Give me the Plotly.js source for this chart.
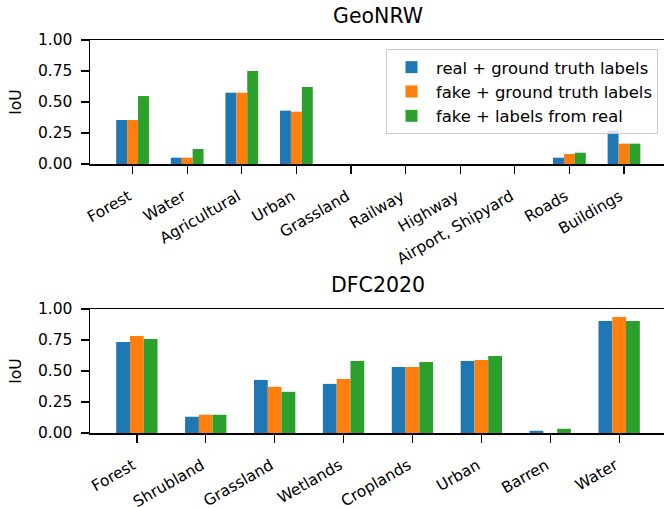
<!DOCTYPE html>
<html>
<head>
<meta charset="utf-8">
<script src="https://cdn.plot.ly/plotly-3.0.1.min.js"></script>
<style>html,body{margin:0;padding:0;background:#fff;}#chart{width:664px;height:508px;}</style>
</head>
<body>
<div id="chart"></div>
<script>
// ---- data ----
var seriesNames = ["real + ground truth labels", "fake + ground truth labels", "fake + labels from real"];
var seriesColors = ["#1f77b4", "#ff7f0e", "#2ca02c"];

var geoCategories = ["Forest", "Water", "Agricultural", "Urban", "Grassland", "Railway", "Highway", "Airport, Shipyard", "Roads", "Buildings"];
var geoReal     = [0.355, 0.051, 0.575, 0.430, 0, 0, 0, 0, 0.051, 0.269];
var geoFakeGT   = [0.355, 0.051, 0.575, 0.422, 0, 0, 0, 0, 0.081, 0.164];
var geoFakeReal = [0.548, 0.121, 0.750, 0.621, 0, 0, 0, 0, 0.091, 0.164];

var dfcCategories = ["Forest", "Shrubland", "Grassland", "Wetlands", "Croplands", "Urban", "Barren", "Water"];
var dfcReal     = [0.734, 0.131, 0.428, 0.396, 0.533, 0.581, 0.018, 0.903];
var dfcFakeGT   = [0.782, 0.147, 0.372, 0.436, 0.533, 0.589, 0.000, 0.935];
var dfcFakeReal = [0.758, 0.147, 0.332, 0.581, 0.573, 0.621, 0.034, 0.903];

var yTicks = [0, 0.25, 0.5, 0.75, 1.0];
var titles = ["GeoNRW", "DFC2020"];

// ---- traces ----
var traces = [];
var geoSeries = [geoReal, geoFakeGT, geoFakeReal];
var dfcSeries = [dfcReal, dfcFakeGT, dfcFakeReal];
for (var i = 0; i < 3; i++) {
  traces.push({type: "bar", x: geoCategories, y: geoSeries[i], name: seriesNames[i],
    marker: {color: seriesColors[i], line: {width: 0}}, xaxis: "x", yaxis: "y", showlegend: true});
}
for (var j = 0; j < 3; j++) {
  traces.push({type: "bar", x: dfcCategories, y: dfcSeries[j], name: seriesNames[j],
    marker: {color: seriesColors[j], line: {width: 0}}, xaxis: "x2", yaxis: "y2", showlegend: false});
}

var W = 664, H = 508;
var left = 90;
var font = {family: "DejaVu Sans", size: 15.5, color: "#000"};
var titleFont = {family: "DejaVu Sans", size: 20.5, color: "#000"};

function xAxis(anchor, n, spacingPx) {
  var lo = -0.3 - 0.05 * (n - 1 + 0.6);
  var hi = lo + (W - left) / spacingPx;
  return {
    anchor: anchor, domain: [left / W, 1], range: [lo, hi], type: "category",
    showline: true, linecolor: "#000", linewidth: 1.5, mirror: true,
    ticks: "outside", ticklen: 8, tickwidth: 1.3, tickcolor: "#000",
    tickangle: -30, tickfont: font, showgrid: false, zeroline: false, automargin: false,
    ticklabelstandoff: 8, ticklabelshift: -4
  };
}
function yAxis(anchor, top, bottom) {
  return {
    anchor: anchor, domain: [1 - bottom / H, 1 - top / H], range: [0, 1],
    tickvals: yTicks, tickformat: ".2f",
    showline: true, linecolor: "#000", linewidth: 1.5, mirror: false,
    ticks: "outside", ticklen: 8, tickwidth: 1.3, tickcolor: "#000",
    tickfont: font, showgrid: false, zeroline: false, automargin: false,
    ticklabelstandoff: 5,
    title: {text: "IoU", font: font, standoff: 12}
  };
}

var layout = {
  width: W, height: H,
  margin: {l: 0, r: 0, t: 0, b: 0},
  paper_bgcolor: "#fff", plot_bgcolor: "#fff",
  font: font,
  barmode: "group", bargap: 0.4, bargroupgap: 0,
  xaxis: xAxis("y", geoCategories.length, 54.6),
  yaxis: yAxis("x", 40, 164),
  xaxis2: xAxis("y2", dfcCategories.length, 68.9),
  yaxis2: yAxis("x2", 309, 433),
  showlegend: true,
  legend: {
    x: 658 / W, y: 1 - 49 / H, xanchor: "right", yanchor: "top",
    bgcolor: "rgba(255,255,255,0.8)", bordercolor: "#cccccc", borderwidth: 1,
    font: {family: "DejaVu Sans", size: 16.4, color: "#000"}, traceorder: "normal", itemwidth: 39
  },
  annotations: [
    {text: titles[0], xref: "paper", yref: "paper", x: (left + 666.6) / 2 / W, y: 1 - 16 / H,
     xanchor: "center", yanchor: "middle", showarrow: false, font: titleFont},
    {text: titles[1], xref: "paper", yref: "paper", x: (left + 666.6) / 2 / W, y: 1 - 285 / H,
     xanchor: "center", yanchor: "middle", showarrow: false, font: titleFont}
  ]
};

Plotly.newPlot("chart", traces, layout, {displayModeBar: false, staticPlot: true});
</script>
</body>
</html>
